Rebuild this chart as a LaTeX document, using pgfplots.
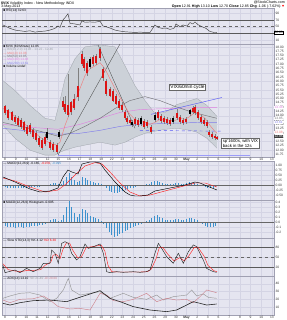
\documentclass[border=0pt]{standalone}
\usepackage{fontspec}
\setmainfont{Liberation Sans}
\usepackage{pgfplots}
\pgfplotsset{compat=1.18}
\usepackage{pgfplotstable}

\definecolor{panelbg}{RGB}{229,229,240}
\definecolor{gridc}{RGB}{212,212,228}
\definecolor{framec}{RGB}{160,160,178}
\definecolor{candred}{RGB}{220,20,20}
\definecolor{bbfill}{RGB}{204,209,216}
\definecolor{bbline}{RGB}{160,165,172}
\definecolor{ma10}{RGB}{240,125,125}
\definecolor{ma50}{RGB}{115,115,120}
\definecolor{ma100}{RGB}{225,130,225}
\definecolor{ma200}{RGB}{130,125,235}
\definecolor{trendblue}{RGB}{90,90,245}
\definecolor{histblue}{RGB}{60,145,205}
\definecolor{pdi}{RGB}{150,150,150}
\definecolor{mdi}{RGB}{205,130,140}

\newcommand{\tf}{\fontsize{3.3}{3.6}\selectfont}
\newcommand{\lf}{\fontsize{3.2}{3.4}\selectfont}
\newcommand{\hf}{\fontsize{3.6}{4}\selectfont}

\pgfplotsset{
 panel/.style={
   scale only axis, width=272bp,
   xmin=-0.28, xmax=25.19,
   axis background/.style={fill=panelbg},
   axis line style={draw=framec, line width=0.4bp},
   major tick length=0pt, minor tick length=0pt,
   xtick={0,...,25}, xticklabels={},
   ymajorgrids, xmajorgrids,
   major grid style={draw=gridc, line width=0.35bp},
   yticklabel pos=right,
   yticklabel style={font=\tf, xshift=-2bp, text=black!80},
   xticklabel style={font=\tf, yshift=2bp, text=black!80},
   /pgf/number format/assume math mode=true,
   clip=false,
 },
 datelabels/.style={xticklabels={8,9,10,11,12,15,16,17,18,19,22,23,24,25,26,29,30,\textbf{May},2,3,6,7,8,9,10,13}},
}

\pgfplotstableread{
x top bot hi lo
0.00  14.54  14.13  14.65  14.02
0.28  14.31  13.85  14.42  13.73
0.66  14.19  13.73  14.25  13.67
0.94  13.90  13.61  14.02  13.50
1.22  13.85  13.44  13.96  13.33
1.50  13.73  13.33  13.85  13.21
1.78  13.61  13.15  13.67  13.04
2.06  13.33  12.92  13.44  12.81
2.34  13.44  13.04  13.56  12.92
2.62  13.15  12.75  13.27  12.63
2.90  12.98  12.58  13.10  12.46
3.18  12.69  12.29  12.81  12.17
3.46  12.58  12.11  12.69  12.00
3.75  12.75  12.35  12.92  12.23
4.21  12.46  12.11  12.58  12.00
4.49  12.35  12.00  12.46  11.88
4.87  12.29  11.88  12.40  11.77
5.43  14.88  14.48  15.06  14.31
5.62  14.71  14.19  15.17  14.08
5.90  14.60  14.02  16.44  13.90
6.18  14.77  14.19  14.88  14.02
6.46  15.00  14.42  15.29  14.31
6.84  15.75  15.06  16.79  14.88
7.21  17.60  17.02  17.77  16.90
7.40  17.31  16.79  17.42  16.61
7.68  17.08  16.50  17.19  16.33
8.24  17.42  17.02  17.54  16.90
8.52  17.48  17.08  17.60  16.96
8.90  17.88  17.37  18.00  17.19
9.18  16.73  16.21  16.85  16.04
9.46  16.04  15.29  16.15  15.17
9.83  15.58  15.17  15.69  15.06
10.11 15.46  14.88  15.58  14.77
10.39 15.17  14.71  15.29  14.60
10.67 14.88  14.42  15.00  14.31
10.96 14.65  14.31  14.77  14.19
11.24 14.19  13.85  14.31  13.73
11.42 13.85  13.61  13.96  13.50
11.70 13.73  13.56  13.85  13.44
12.17 13.79  13.50  13.90  13.38
12.45 13.73  13.44  13.85  13.33
13.01 13.67  13.33  13.79  13.21
13.30 13.61  13.38  13.73  13.27
13.67 13.33  13.04  13.44  12.92
14.33 14.19  13.85  14.31  13.73
14.61 13.96  13.67  14.08  13.56
14.89 13.85  13.61  13.96  13.50
15.17 13.79  13.56  13.90  13.44
15.45 13.73  13.50  13.85  13.38
16.10 14.13  13.85  14.37  13.73
16.39 13.90  13.61  14.02  13.50
16.67 13.73  13.56  13.85  13.44
16.95 13.79  13.61  13.90  13.50
17.60 14.42  14.19  14.54  14.08
17.79 14.48  14.13  14.65  14.02
18.07 14.19  13.85  14.31  13.73
18.35 13.90  13.61  14.02  13.50
18.63 13.73  13.50  13.85  13.38
18.91 13.61  13.38  13.73  13.27
19.10 13.04  12.86  13.15  12.75
19.38 12.92  12.75  13.04  12.63
19.66 12.81  12.69  12.92  12.58
19.85 12.75  12.69  12.81  12.58
}\redc

\pgfplotstableread{
x top bot hi lo
3.93  13.04  12.69  13.27  12.58
5.06  13.04  12.75  13.15  12.63
7.96  17.31  16.85  17.42  16.73
11.89 13.61  13.44  13.73  13.33
12.73 13.85  13.50  13.96  13.38
14.04 14.02  13.73  14.19  13.61
15.73 13.85  13.61  13.96  13.50
17.32 14.31  14.08  14.42  13.96
}\blackc

\pgfplotstableread{
x up lo
-0.19 16.04 13.44
0.94 15.46 12.69
2.34 14.60 12.00
3.75 13.85 11.71
4.68 13.73 11.71
5.15 14.88 11.88
5.62 16.15 12.00
6.55 17.31 12.17
7.49 18.00 12.29
8.90 18.12 12.46
10.30 18.00 12.29
11.24 16.90 12.46
12.17 15.75 12.75
13.11 14.88 12.98
14.04 14.13 13.10
14.98 14.19 13.21
16.10 14.65 13.27
17.32 14.88 13.15
17.98 15.00 13.04
18.91 14.60 12.69
19.85 13.96 12.11
}\bb

\pgfplotstableread{
x v
-0.19 16.04
0.94 15.46
2.34 14.60
3.75 13.85
4.68 13.73
5.15 14.88
5.62 16.15
6.55 17.31
7.49 18.00
8.90 18.12
10.30 18.00
11.24 16.90
12.17 15.75
13.11 14.88
14.04 14.13
14.98 14.19
16.10 14.65
17.32 14.88
17.98 15.00
18.91 14.60
19.85 13.96
19.85 12.11
18.91 12.69
17.98 13.04
17.32 13.15
16.10 13.27
14.98 13.21
14.04 13.10
13.11 12.98
12.17 12.75
11.24 12.46
10.30 12.29
8.90 12.46
7.49 12.29
6.55 12.17
5.62 12.00
5.15 11.88
4.68 11.71
3.75 11.71
2.34 12.00
0.94 12.69
-0.19 13.44
}\bbpoly

\pgfplotstableread{
x v
-0.19 14.42
0.47 14.19
1.40 13.73
2.34 13.27
3.28 12.75
4.21 12.40
4.87 12.29
5.15 12.46
5.62 13.44
6.09 14.19
6.55 14.88
7.02 15.58
7.49 16.33
7.96 16.73
8.43 16.90
8.90 17.08
9.36 16.73
9.83 16.15
10.30 15.58
10.77 15.06
11.24 14.54
11.70 14.08
12.17 13.79
12.64 13.67
13.11 13.61
13.58 13.50
14.04 13.61
14.51 13.79
14.98 13.79
15.45 13.73
15.92 13.73
16.39 13.85
16.85 13.79
17.32 13.96
17.79 14.19
18.26 14.08
18.73 13.85
19.19 13.44
19.57 13.15
19.85 12.98
}\maten

\pgfplotstableread{
x v
-0.19 13.61
1.40 13.38
3.28 13.10
4.96 12.81
6.09 12.98
7.49 13.38
8.90 13.85
10.30 14.42
11.70 14.88
13.11 15.11
14.51 14.88
15.92 14.54
17.32 14.25
18.73 14.02
19.85 13.85
}\mafifty

\pgfplotstableread{
x v
-0.19 13.50
2.34 13.33
4.96 13.21
7.02 13.50
8.90 13.85
10.77 14.19
12.64 14.36
15.45 14.42
18.26 14.48
19.85 14.48
}\mahundred

\pgfplotstableread{
x v
-0.19 13.27
2.34 13.10
4.96 12.92
7.02 12.98
8.90 13.15
10.77 13.38
12.64 13.50
15.45 13.56
18.26 13.61
19.85 13.61
}\matwohundred

\pgfplotstableread{
x v
-0.19 55
0.47 45
0.94 40
1.40 38
1.87 36
2.34 38
2.81 34
3.28 36
3.75 37
4.21 40
4.68 45
4.96 52
5.15 48
5.43 70
5.71 80
5.90 88
6.09 60
6.55 58
7.02 55
7.21 67
7.49 63
7.96 64
8.43 63
8.90 66
9.18 52
9.46 50
9.83 46
10.30 40
10.77 37
11.24 35
11.70 34
12.17 33
12.64 34
13.11 33
13.58 33
14.04 55
14.33 48
14.70 45
15.07 46
15.45 42
15.82 45
16.01 58
16.39 50
16.67 55
17.04 52
17.32 62
17.60 58
17.79 64
18.07 56
18.45 50
18.82 45
19.19 36
19.57 33
19.85 32.6
}\rsi

\pgfplotstableread{
x v
-0.19 0.40
0.94 0.15
2.34 -0.20
3.28 -0.35
4.21 -0.30
4.96 -0.15
5.43 0.40
5.90 0.75
6.27 0.65
6.84 0.55
7.21 1.05
7.96 1.15
8.43 1.15
8.90 1.10
9.36 0.75
9.83 0.45
10.30 0.15
10.77 -0.10
11.24 -0.35
11.70 -0.50
12.17 -0.55
12.64 -0.55
13.39 -0.50
14.04 -0.30
14.98 -0.20
15.92 -0.10
16.85 0.00
17.79 0.15
18.26 0.10
18.91 -0.05
19.85 -0.25
}\macd

\pgfplotstableread{
x v
-0.19 0.35
0.94 0.20
2.34 -0.10
3.75 -0.35
4.96 -0.25
5.71 0.05
6.55 0.50
7.49 0.95
8.43 1.12
9.08 1.05
9.83 0.65
10.77 0.10
11.70 -0.35
12.64 -0.55
13.58 -0.50
14.98 -0.30
16.39 -0.10
17.79 0.10
18.73 0.10
19.85 -0.10
}\signal

\pgfplotstableread{
x a b
0.00 -0.11 -0.08
0.25 -0.13 -0.09
0.50 -0.14 -0.10
0.75 -0.14 -0.10
1.00 -0.15 -0.11
1.25 -0.14 -0.10
1.50 -0.14 -0.10
1.75 -0.15 -0.11
2.00 -0.14 -0.10
2.25 -0.13 -0.09
2.50 -0.11 -0.08
2.75 -0.11 -0.08
3.00 -0.10 -0.07
3.25 -0.08 -0.06
3.50 -0.07 -0.05
3.75 -0.06 -0.04
4.00 -0.03 -0.02
4.25 0.06 0.04
4.50 0.10 0.07
4.75 0.08 0.06
5.00 0.03 0.02
5.25 0.07 0.05
5.50 0.21 0.15
5.75 0.42 0.30
6.00 0.59 0.42
6.25 0.42 0.30
6.50 0.25 0.18
6.75 0.14 0.10
7.00 0.22 0.16
7.25 0.38 0.27
7.50 0.34 0.24
7.75 0.25 0.18
8.00 0.18 0.13
8.25 0.14 0.10
8.50 0.11 0.08
8.75 0.08 0.06
9.00 0.04 0.03
9.25 -0.04 -0.03
9.50 -0.17 -0.12
9.75 -0.28 -0.20
10.00 -0.36 -0.26
10.25 -0.41 -0.29
10.50 -0.38 -0.27
10.75 -0.34 -0.24
11.00 -0.29 -0.21
11.25 -0.25 -0.18
11.50 -0.21 -0.15
11.75 -0.17 -0.12
12.00 -0.13 -0.09
12.25 -0.10 -0.07
12.50 -0.07 -0.05
12.75 -0.04 -0.03
13.00 -0.01 -0.01
13.25 0.03 0.02
13.50 0.07 0.05
13.75 0.13 0.09
14.00 0.18 0.13
14.25 0.20 0.14
14.50 0.15 0.11
14.75 0.11 0.08
15.00 0.07 0.05
15.25 0.06 0.04
15.50 0.07 0.05
15.75 0.06 0.04
16.00 0.08 0.06
16.25 0.10 0.07
16.50 0.07 0.05
16.75 0.06 0.04
17.00 0.08 0.06
17.25 0.13 0.09
17.50 0.11 0.08
17.75 0.10 0.07
18.00 0.06 0.04
18.25 0.01 0.01
18.50 -0.06 -0.04
18.75 -0.10 -0.07
19.00 -0.13 -0.09
19.25 -0.14 -0.10
19.50 -0.13 -0.09
19.75 -0.11 -0.08
}\hist

\pgfplotstableread{
x v
-0.20 26
0.00 3
0.94 11
1.40 3
2.03 16
2.65 6
3.28 16
3.59 31
4.21 31
4.37 71
4.68 61
4.99 31
5.31 91
5.62 96
5.93 91
6.24 61
6.71 41
7.02 51
7.49 89
7.80 76
8.27 81
8.90 89
9.21 61
9.52 6
9.83 3
10.46 6
11.08 4
12.02 6
12.64 4
13.26 6
13.58 11
14.04 61
14.36 91
14.67 76
15.14 51
15.76 31
16.23 61
16.70 31
17.17 66
17.63 86
17.95 81
18.57 41
18.88 16
19.51 6
19.82 4
}\stok

\pgfplotstableread{
x v
-0.20 30
0.30 12
0.94 8
1.50 6
2.10 10
2.70 10
3.35 12
3.75 25
4.30 35
4.50 55
4.80 58
5.15 45
5.45 75
5.75 92
6.05 92
6.35 70
6.80 48
7.15 50
7.60 78
7.95 80
8.40 82
9.00 86
9.35 68
9.65 25
10.00 6
10.50 5
11.10 5
12.00 5
12.70 5
13.35 6
13.70 14
14.15 45
14.45 78
14.80 78
15.25 58
15.85 38
16.35 48
16.80 38
17.25 55
17.70 78
18.05 80
18.65 52
19.00 25
19.55 9
19.85 6
}\stod

\pgfplotstableread{
x v
-0.20 15.0
0.47 12.8
1.40 15.8
2.65 18.4
4.21 19.2
5.77 17.1
6.71 21.4
7.65 25.6
8.90 31.2
9.83 21.4
10.77 17.1
12.02 10.7
13.58 6.4
15.14 4.3
16.07 6.4
17.01 12.8
17.63 17.1
18.26 15.0
18.88 12.8
19.82 14.1
}\adx

\pgfplotstableread{
x v
-0.20 21.4
0.47 24.4
1.40 27.8
2.34 28.6
3.28 25.6
4.21 17.1
4.84 21.4
5.46 32.1
5.93 47.0
6.24 32.1
7.02 25.6
7.96 27.8
8.90 29.9
9.83 21.4
11.08 27.8
12.02 22.6
13.26 20.1
14.20 25.6
14.83 19.2
15.76 23.5
17.01 25.6
17.48 32.1
17.95 24.4
18.57 27.0
19.04 22.6
19.82 21.4
}\pdiT

\pgfplotstableread{
x v
-0.20 19.2
0.47 15.8
1.40 20.1
2.65 20.9
3.59 24.4
4.21 19.2
4.99 10.7
6.09 7.7
7.02 8.5
7.96 6.4
8.90 27.8
9.52 25.6
10.14 18.4
11.08 17.1
12.02 20.1
13.26 27.8
14.20 17.1
15.14 21.4
16.07 19.2
17.01 20.1
17.63 15.8
18.26 23.5
18.88 32.1
19.82 28.6
}\mdiT

\begin{document}
\begin{tikzpicture}
\useasboundingbox (0bp,0bp) rectangle (287bp,-320bp);
\fill[white] (0bp,0bp) rectangle (287bp,-320bp);
% header
\node[anchor=north west, inner sep=0, font=\hf] at (1bp,-1.2bp) {\textbf{\$VIX} Volatility Index - New Methodology INDX};
\node[anchor=north west, inner sep=0, font=\hf] at (1bp,-5bp) {3-May-2013};
\node[anchor=north east, inner sep=0, font=\hf] at (285bp,-1.2bp) {@StockCharts.com};
\node[anchor=north east, inner sep=0, font=\hf] at (285bp,-5bp) {\textbf{Open} 12.91 \textbf{High} 13.10 \textbf{Low} 12.70 \textbf{Close} 12.85 \textbf{Chg} -1.06 (-7.62\%)\,\textcolor{red}{▼}};

% ---------- RSI ----------
\begin{axis}[panel, at={(2bp,-8bp)}, anchor=north west, height=36bp,
  ymin=-1, ymax=105, ytick={10,50,70,90}, extra y ticks={30}, extra y tick labels={}]
\addplot[draw=gray!70!black, line width=0.45bp] coordinates {(-0.28,70) (25.19,70)};
\addplot[draw=gray!70!black, line width=0.45bp] coordinates {(-0.28,30) (25.19,30)};
\addplot[draw=gray!80!black, line width=0.4bp, dashed] coordinates {(-0.28,50) (25.19,50)};
\addplot[draw=black!75, line width=0.45bp] table[x=x,y=v]{\rsi};
\node[anchor=north west, inner sep=0.3bp, font=\lf] at (rel axis cs:0.003,0.99) {■ RSI(14) 32.63};
\node[anchor=west, inner sep=0.4bp, font=\tf, fill=white, draw=black, line width=0.2bp] at (axis cs:25.19,32.6) {32.63};
\end{axis}

% ---------- Price ----------
\begin{axis}[panel, at={(2bp,-44bp)}, anchor=north west, height=113bp,
  ymin=11.6, ymax=18.17, ytick={12,12.5,...,18},
  extra y ticks={11.75,12.25,...,17.75}, extra y tick style={grid=none},
  yticklabel style={/pgf/number format/.cd, fixed, fixed zerofill, precision=2},
  datelabels]
\addplot[fill=bbfill, draw=none] table[x=x,y=v]{\bbpoly};
\addplot[draw=bbline, line width=0.3bp] table[x=x,y=up]{\bb};
\addplot[draw=bbline, line width=0.3bp] table[x=x,y=lo]{\bb};
\addplot[draw=ma200, line width=0.45bp] table[x=x,y=v]{\matwohundred};
\addplot[draw=ma100, line width=0.45bp] table[x=x,y=v]{\mahundred};
\addplot[draw=ma50, line width=0.45bp] table[x=x,y=v]{\mafifty};
\addplot[draw=black!70, line width=0.35bp] coordinates {(4.96,11.71) (10.77,18.17)};
\addplot[draw=black!70, line width=0.35bp] coordinates {(8.71,18.12) (12.17,13.27)};
\addplot[draw=trendblue, line width=0.45bp] coordinates {(13.67,14.08) (20.32,15.06)};
\addplot[draw=trendblue, line width=0.45bp, dashed] coordinates {(12.64,13.15) (20.32,13.10)};
\addplot[draw=trendblue!60, line width=1.1bp] coordinates {(4.96,11.70) (22.94,11.70)};
\addplot[draw=ma10, line width=0.45bp] table[x=x,y=v]{\maten};
% wicks
\addplot[draw=none, mark=none, error bars/y dir=both, error bars/y explicit, error bars/error mark=none,
  error bars/error bar style={line width=0.3bp, draw=black!50}]
  table[x=x, y expr={(\thisrow{hi}+\thisrow{lo})/2}, y error expr={(\thisrow{hi}-\thisrow{lo})/2}]{\redc};
\addplot[draw=none, mark=none, error bars/y dir=both, error bars/y explicit, error bars/error mark=none,
  error bars/error bar style={line width=0.3bp, draw=black!50}]
  table[x=x, y expr={(\thisrow{hi}+\thisrow{lo})/2}, y error expr={(\thisrow{hi}-\thisrow{lo})/2}]{\blackc};
% bodies
\addplot[draw=none, mark=none, error bars/y dir=both, error bars/y explicit, error bars/error mark=none,
  error bars/error bar style={line width=1.5bp, draw=candred}]
  table[x=x, y expr={(\thisrow{top}+\thisrow{bot})/2}, y error expr={(\thisrow{top}-\thisrow{bot})/2}]{\redc};
\addplot[draw=none, mark=none, error bars/y dir=both, error bars/y explicit, error bars/error mark=none,
  error bars/error bar style={line width=1.5bp, draw=black}]
  table[x=x, y expr={(\thisrow{top}+\thisrow{bot})/2}, y error expr={(\thisrow{top}-\thisrow{bot})/2}]{\blackc};
% legend
\node[anchor=north west, inner sep=0.3bp, font=\lf, align=left] at (rel axis cs:0.003,0.995) {%
  ■ \$VIX (60 Minute) 12.85\\
  \textcolor{bbline}{— BB(20,2.0) 13.98 - 13.22 - 12.46}\\
  \textcolor{ma10}{— MA(10) 13.08}\\
  \textcolor{ma50}{— MA(50) 13.85}\\
  \textcolor{ma100}{— MA(100) 14.48}\\
  \textcolor{ma200}{— MA(200) 13.61}\\
  ■ Volume undef};
\node[fill=white, draw=black!60, line width=0.3bp, inner sep=1bp, font=\fontsize{4.8}{5.2}\selectfont] at (axis cs:17.09,15.66) {VIX/60min cycle};
\node[fill=white, draw=black!60, line width=0.3bp, inner sep=1.2bp, align=left, font=\fontsize{4.3}{5}\selectfont] at (axis cs:22.05,12.40) {sp'1600s, with VIX\\back in the 12s};
\node[anchor=west, inner sep=0.3bp, font=\tf, text=ma100, fill=white] at (axis cs:25.19,14.48) {14.48};
\node[anchor=west, inner sep=0.3bp, font=\tf, text=ma50, fill=white] at (axis cs:25.19,13.85) {13.85};
\node[anchor=west, inner sep=0.3bp, font=\tf, text=ma200, fill=white] at (axis cs:25.19,13.61) {13.61};
\node[anchor=west, inner sep=0.3bp, font=\tf, text=ma10, fill=white] at (axis cs:25.19,13.05) {13.08};
\node[anchor=west, inner sep=0.3bp, font=\tf, text=white, fill=black!75] at (axis cs:25.19,12.80) {12.85};
\end{axis}

% ---------- MACD ----------
\begin{axis}[panel, at={(2bp,-161bp)}, anchor=north west, height=39bp,
  ymin=-0.75, ymax=1.2, ytick={-0.5,-0.25,0,0.25,0.5,0.75,1},
  yticklabel style={/pgf/number format/.cd, fixed, fixed zerofill, precision=2}]
\addplot[ycomb, draw=histblue, line width=0.9bp, mark=none] table[x=x,y=a]{\hist};
\addplot[draw=black!60, line width=0.3bp] coordinates {(-0.28,0) (25.19,0)};
\addplot[draw=red!85, line width=0.45bp] table[x=x,y=v]{\signal};
\addplot[draw=black, line width=0.45bp] table[x=x,y=v]{\macd};
\node[anchor=north west, inner sep=0.3bp, font=\lf] at (rel axis cs:0.003,0.99) {— MACD(12,26,9) -0.165, \textcolor{red}{-0.070}, \textcolor{histblue}{-0.095}};
\end{axis}

% ---------- Histogram ----------
\begin{axis}[panel, at={(2bp,-200bp)}, anchor=north west, height=38bp,
  ymin=-0.32, ymax=0.44, ytick={-0.2,-0.1,0,0.1,0.2,0.3,0.4},
  yticklabel style={/pgf/number format/.cd, fixed, fixed zerofill, precision=1}]
\addplot[ycomb, draw=histblue, line width=0.9bp, mark=none] table[x=x,y=b]{\hist};
\addplot[draw=black!60, line width=0.3bp] coordinates {(-0.28,0) (25.19,0)};
\node[anchor=north west, inner sep=0.3bp, font=\lf] at (rel axis cs:0.003,0.99) {■ MACD(12,26,9) Histogram -0.095};
\end{axis}

% ---------- Stochastics ----------
\begin{axis}[panel, at={(2bp,-238bp)}, anchor=north west, height=38bp,
  ymin=-7, ymax=107, ytick={20,50,80}]
\addplot[draw=gray!70!black, line width=0.45bp] coordinates {(-0.28,80) (25.19,80)};
\addplot[draw=gray!70!black, line width=0.45bp] coordinates {(-0.28,20) (25.19,20)};
\addplot[draw=gray!80!black, line width=0.4bp, dashed] coordinates {(-0.28,50) (25.19,50)};
\addplot[draw=red!85, line width=0.45bp] table[x=x,y=v]{\stod};
\addplot[draw=black!85, line width=0.45bp] table[x=x,y=v]{\stok};
\node[anchor=north west, inner sep=0.3bp, font=\lf] at (rel axis cs:0.003,0.99) {— Slow STO(14,3) \%K 4.12 \textcolor{red}{\%D 6.30}};
\end{axis}

% ---------- ADX ----------
\begin{axis}[panel, at={(2bp,-276bp)}, anchor=north west, height=39bp,
  ymin=0, ymax=50, ytick={10,20,30,40}, datelabels]
\addplot[draw=pdi, line width=0.45bp] table[x=x,y=v]{\pdiT};
\addplot[draw=mdi, line width=0.45bp] table[x=x,y=v]{\mdiT};
\addplot[draw=black!85, line width=0.6bp] table[x=x,y=v]{\adx};
\node[anchor=north west, inner sep=0.3bp, font=\lf] at (rel axis cs:0.003,0.99) {— ADX(14) 14.10 \textcolor{pdi}{+DI 21.40} \textcolor{mdi}{-DI 28.60}};
\end{axis}
\end{tikzpicture}
\end{document}
